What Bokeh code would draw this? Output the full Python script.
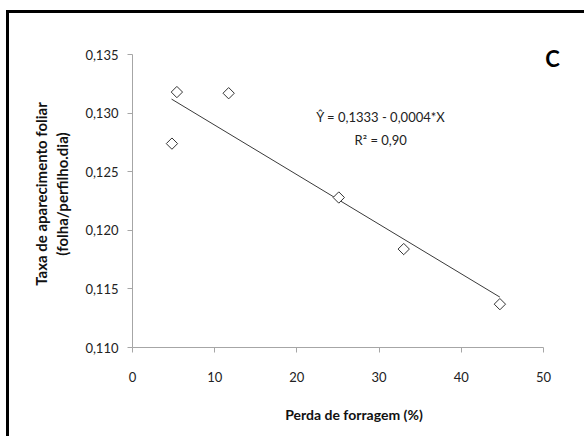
import math
from bokeh.plotting import figure
from bokeh.models import Label, Range1d, FixedTicker, CustomJSTickFormatter
from bokeh.embed import file_html
from bokeh.resources import INLINE

# Data
perda_forragem = [4.8, 5.4, 11.7, 25.1, 33.0, 44.7]
taxa_aparecimento = [0.1274, 0.1318, 0.1317, 0.1228, 0.1184, 0.1137]

# Fitted trend line (endpoints)
trend_x = [4.75, 44.7]
trend_y = [0.1312, 0.1143]

x_ticks = [0, 10, 20, 30, 40, 50]
y_ticks = [0.110, 0.115, 0.120, 0.125, 0.130, 0.135]

equation_text = "Ŷ = 0,1333 - 0,0004*X"
r2_text = "R² = 0,90"
panel_letter = "C"
x_title = "Perda de forragem (%)"
y_title = "Taxa de aparecimento foliar\n(folha/perfilho.dia)"

FONT = "Lato"

p = figure(width=575, height=423, output_backend="svg", toolbar_location=None,
           x_range=Range1d(0, 53.9), y_range=Range1d(0.110, 0.1362),
           min_border_left=123, min_border_right=9, min_border_top=27, min_border_bottom=89)
p.styles = {"margin-left": "9px", "margin-top": "13px",
            "box-shadow": "-3px 0px 0px 0px black, 0px -3px 0px 0px black, -3px -3px 0px 0px black"}
p.outline_line_color = None
p.background_fill_color = "white"
p.border_fill_color = "white"
p.grid.visible = False

for ax in (p.xaxis[0], p.yaxis[0]):
    ax.axis_line_color = "#a6a6a6"
    ax.axis_line_width = 1
    ax.major_tick_line_color = "#a6a6a6"
    ax.major_tick_out = 5
    ax.major_tick_in = 0
    ax.minor_tick_line_color = None
    ax.major_label_text_font = FONT
    ax.major_label_text_font_size = "13px"
    ax.major_label_text_color = "#222222"
    ax.axis_label_text_font = FONT
    ax.axis_label_text_font_style = "bold"
    ax.axis_label_text_color = "#111111"

p.xaxis.bounds = (0, 50)
p.yaxis.bounds = (0.110, 0.135)
p.xaxis.axis_label_text_font_size = "14px"
p.yaxis.axis_label_text_font_size = "15px"
p.xaxis.ticker = FixedTicker(ticks=x_ticks)
p.yaxis.ticker = FixedTicker(ticks=y_ticks)
p.yaxis.formatter = CustomJSTickFormatter(code="return tick.toFixed(3).replace('.', ',');")
p.xaxis.major_label_standoff = 19
p.yaxis.major_label_standoff = 9
p.xaxis.axis_label = x_title
p.yaxis.axis_label = y_title
p.xaxis.axis_label_standoff = 21
p.yaxis.axis_label_standoff = 11

p.line(trend_x, trend_y, line_color="#3a3a3a", line_width=1)
p.scatter(perda_forragem, taxa_aparecimento, marker="square", angle=math.pi / 4,
          size=8, fill_color="white", line_color="#333333", line_width=1)

p.add_layout(Label(x=30.2, y=0.1297, text=equation_text, text_align="center",
                   text_baseline="middle", text_font=FONT, text_font_size="13px",
                   text_color="#222222"))
p.add_layout(Label(x=30.2, y=0.1277, text=r2_text, text_align="center",
                   text_baseline="middle", text_font=FONT, text_font_size="13px",
                   text_color="#222222"))
p.add_layout(Label(x=51.1, y=0.1347, text=panel_letter, text_align="center",
                   text_baseline="middle", text_font=FONT, text_font_size="22px",
                   text_font_style="bold", text_color="#000000"))

open("out.html", "w").write(file_html(p, INLINE))
